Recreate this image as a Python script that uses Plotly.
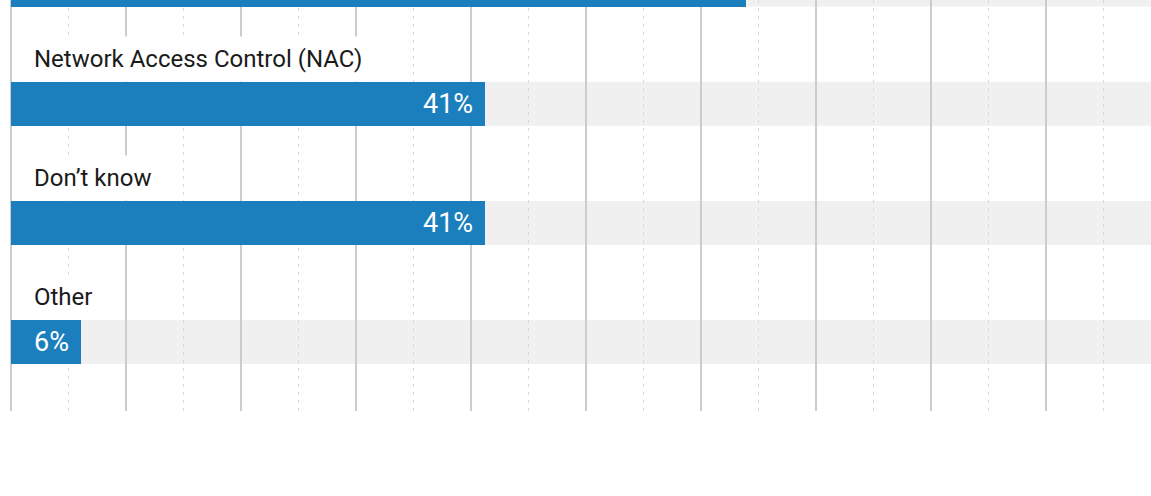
import plotly.graph_objects as go

# survey answers, top to bottom (first one is cut off at the top of the view)
categories = ["Zero Trust Network Access (ZTNA)", "Network Access Control (NAC)", "Don’t know", "Other"]
values = [63.9, 41.2, 41.2, 6.1]
value_labels = ["64%", "41%", "41%", "6%"]

BLUE = "#1b7fbd"
TRACK = "#f0f0f0"
HALF = 0.1845  # half of the bar thickness, in category units

fig = go.Figure()

fig.add_trace(go.Bar(
    x=values,
    y=categories,
    orientation="h",
    width=HALF * 2,
    marker=dict(color=BLUE, line=dict(width=0)),
    hoverinfo="skip",
))

# light grey 100% tracks behind the bars (below the gridlines)
for i, cat in enumerate(categories):
    fig.add_shape(
        type="rect", xref="x", yref="y",
        x0=0, x1=100, y0=i - HALF, y1=i + HALF,
        fillcolor=TRACK, line=dict(width=0), layer="below",
    )
    # category label sitting on a white box above each bar
    fig.add_annotation(
        x=0, y=i - HALF, xref="x", yref="y",
        xanchor="left", yanchor="bottom", xshift=14,
        text=cat, showarrow=False, align="left",
        bgcolor="white", borderpad=8,
        font=dict(family="Roboto", size=24, color="#1a1a1a"),
    )
    # value inside the end of the bar
    fig.add_annotation(
        x=values[i], y=i, xref="x", yref="y",
        xanchor="right", yanchor="middle", xshift=-10,
        text=value_labels[i], showarrow=False,
        font=dict(family="Roboto", size=27, color="white"),
    )

fig.update_xaxes(
    range=[-0.1, 99.1],
    tick0=0, dtick=10,
    showgrid=True, gridcolor="#cccccc", gridwidth=1.5,
    zeroline=True, zerolinecolor="#cccccc", zerolinewidth=1.5,
    showticklabels=False, ticks="",
    minor=dict(dtick=5, showgrid=True, gridcolor="#d9d9d9", gridwidth=1, griddash="3px,5px"),
)
fig.update_yaxes(
    range=[3.578, 0.130],
    showgrid=False, zeroline=False, showticklabels=False, ticks="",
)

fig.update_layout(
    width=1151, height=496,
    margin=dict(l=10, r=0, t=0, b=85),
    plot_bgcolor="white", paper_bgcolor="white",
    showlegend=False, bargap=0,
    font=dict(family="Roboto"),
)

# drop the default page margin so the figure sits at the window's corner
fig.write_html(
    "out.html",
    config={"displayModeBar": False},
    post_script="document.body.style.margin='0';",
)
